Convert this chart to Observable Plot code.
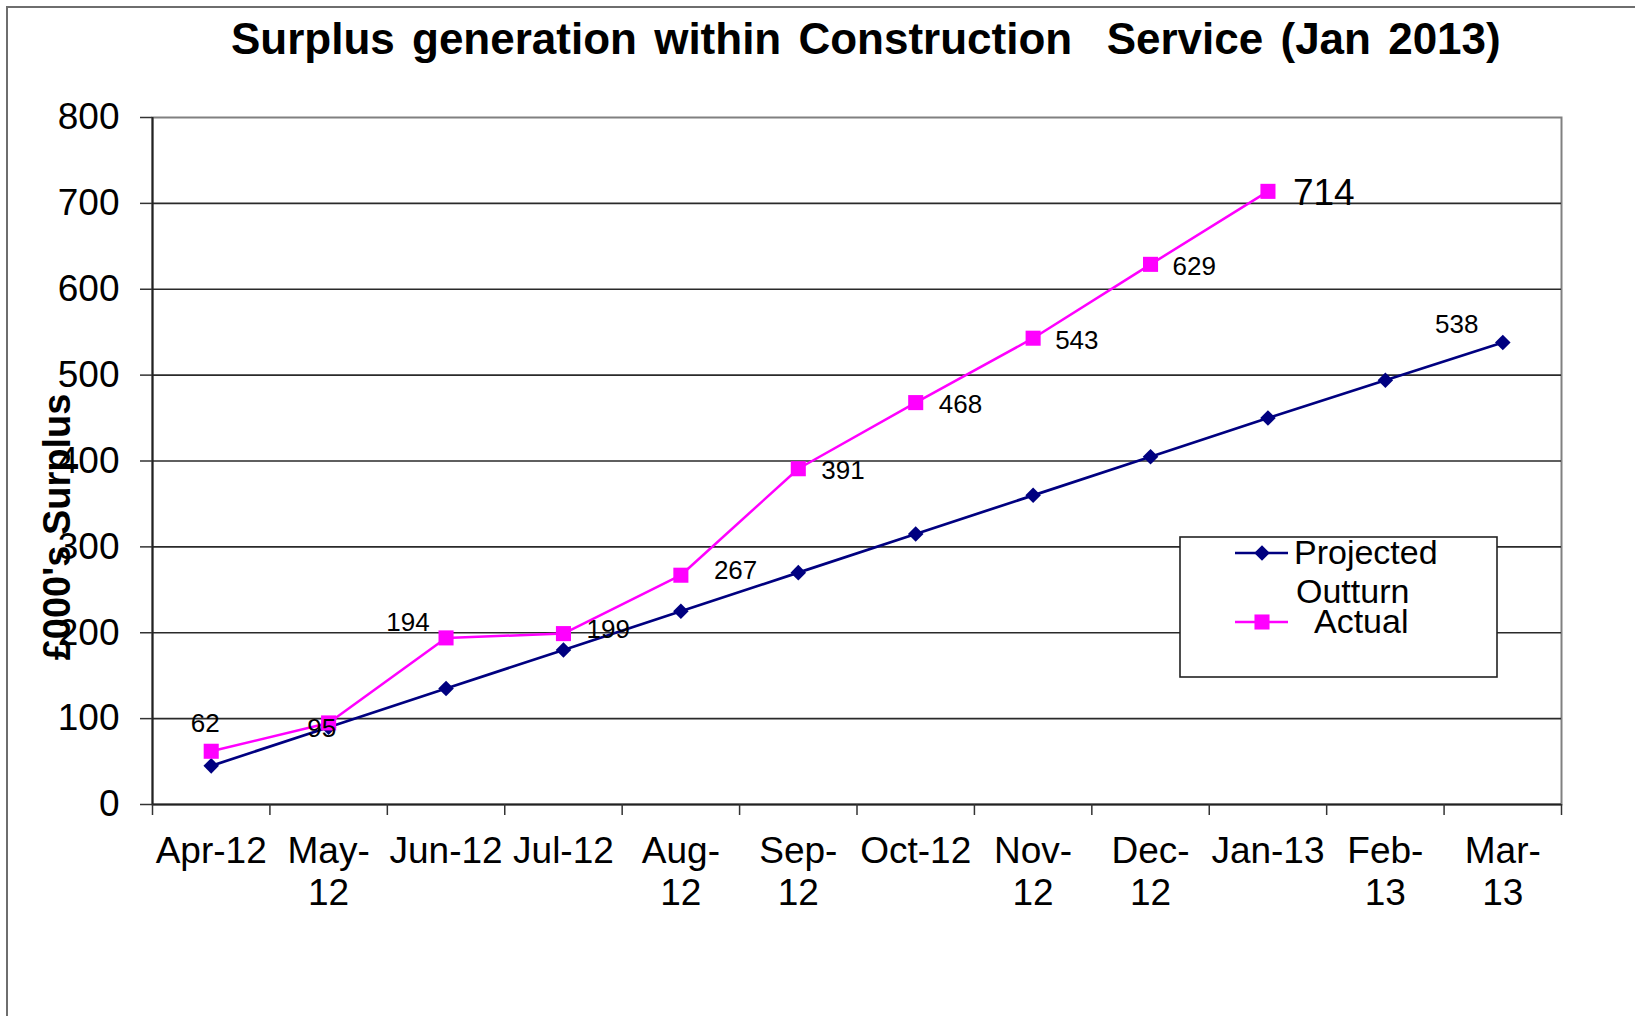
<!DOCTYPE html>
<html>
<head>
<meta charset="utf-8">
<script src="https://cdn.jsdelivr.net/npm/d3@7"></script>
<script src="https://cdn.jsdelivr.net/npm/@observablehq/plot@0.6"></script>
<style>
  html, body { margin: 0; padding: 0; background: #fff; }
  body { width: 1635px; height: 1016px; overflow: hidden; position: relative;
         font-family: "Liberation Sans", Arial, sans-serif; }
  #border { position: absolute; left: 6px; top: 6px; width: 1700px; height: 1100px;
            border-left: 2px solid #6e6e6e; border-top: 2px solid #6e6e6e; }
  #title { position: absolute; left: 231px; top: 17px; font-size: 44px; line-height: 44px;
           font-weight: bold; white-space: pre; word-spacing: 5px; color: #000; }
  #chart { position: absolute; left: 0; top: 80px; }
  #legend { position: absolute; left: 0; top: 0; }
</style>
</head>
<body>
<div id="border"></div>
<div id="title"></div>
<div id="chart"></div>
<svg id="legend" width="1635" height="1016" style="pointer-events:none"></svg>
<script>
// ---- data ----
const months = ["Apr-12","May-12","Jun-12","Jul-12","Aug-12","Sep-12","Oct-12","Nov-12","Dec-12","Jan-13","Feb-13","Mar-13"];
const monthLabels = ["Apr-12","May-\n12","Jun-12","Jul-12","Aug-\n12","Sep-\n12","Oct-12","Nov-\n12","Dec-\n12","Jan-13","Feb-\n13","Mar-\n13"];
const projected = [45, 90, 135, 180, 225, 270, 315, 360, 405, 450, 494, 538];
const actual = [62, 95, 194, 199, 267, 391, 468, 543, 629, 714];
const yTicks = [0, 100, 200, 300, 400, 500, 600, 700, 800];
const seriesNames = ["Projected Outturn", "Actual"];
const titleText = "Surplus generation within Construction  Service (Jan 2013)";
const yLabel = "£000's Surplus";

document.getElementById("title").textContent = titleText;

// ---- styles ----
const NAVY = "#000080", MAGENTA = "#FF00FF";
const FONT = "Liberation Sans, Arial, sans-serif";
const R_DIAMOND = 7, R_SQUARE = 8.5;

const projRows = projected.map((v, i) => ({i, month: months[i], v}));
const actRows = actual.map((v, i) => ({i, month: months[i], v}));
const bounds = d3.range(months.length + 1).map(k => k - 0.5);

const placements = [
  {rows: actRows, i: 0, anchor: "middle", dx: -6, dy: -28, size: 26},
  {rows: actRows, i: 1, anchor: "middle", dx: -7, dy: 6, size: 26},
  {rows: actRows, i: 2, anchor: "middle", dx: -38, dy: -15, size: 26},
  {rows: actRows, i: 3, anchor: "start", dx: 23, dy: -4, size: 26},
  {rows: actRows, i: 4, anchor: "start", dx: 33, dy: -5, size: 26},
  {rows: actRows, i: 5, anchor: "start", dx: 23, dy: 2, size: 26},
  {rows: actRows, i: 6, anchor: "start", dx: 23, dy: 2, size: 26},
  {rows: actRows, i: 7, anchor: "start", dx: 22, dy: 2, size: 26},
  {rows: actRows, i: 8, anchor: "start", dx: 22, dy: 2, size: 26},
  {rows: actRows, i: 9, anchor: "start", dx: 25, dy: 2, size: 37},
  {rows: projRows, i: 11, anchor: "middle", dx: -46, dy: -18, size: 26}
];

const chart = Plot.plot({
  width: 1635,
  height: 936,
  marginTop: 37,
  marginBottom: 212,
  marginLeft: 152,
  marginRight: 74,
  style: {fontFamily: FONT, color: "#000", background: "transparent"},
  x: {type: "linear", domain: [-0.5, months.length - 0.5], axis: null},
  y: {domain: [0, 800], axis: null},
  marks: [
    Plot.frame({stroke: "#808080", strokeWidth: 2}),
    Plot.gridY(yTicks.filter(v => v > 0 && v < 800), {stroke: "#2a2a2a", strokeOpacity: 1, strokeWidth: 1.7}),
    Plot.ruleX([bounds[0]], {stroke: "#222", strokeWidth: 2}),
    Plot.ruleY([0], {stroke: "#222", strokeWidth: 2}),
    Plot.axisY(yTicks, {tickSize: 12, tickPadding: 21, fontSize: 37, label: null, stroke: "#333", strokeWidth: 1.5}),
    Plot.axisX(bounds, {tickSize: 11, tickFormat: () => "", label: null, stroke: "#333", strokeWidth: 1.5}),
    Plot.text(monthLabels.map((t, i) => ({i, t})), {
      x: "i", text: "t", frameAnchor: "bottom", dy: 28, lineAnchor: "top",
      textAnchor: "middle", lineHeight: 1.15, fontSize: 37, fill: "#000"
    }),
    Plot.text([yLabel], {frameAnchor: "left", textAnchor: "middle", rotate: -90, dx: -95, dy: 66,
      fontSize: 38, fontWeight: "bold", fill: "#000"}),
    Plot.line(projRows, {x: "i", y: "v", stroke: NAVY, strokeWidth: 2.7}),
    Plot.dot(projRows, {x: "i", y: "v", symbol: "diamond2", r: R_DIAMOND, fill: NAVY, stroke: "none"}),
    Plot.line(actRows, {x: "i", y: "v", stroke: MAGENTA, strokeWidth: 2.5}),
    Plot.dot(actRows, {x: "i", y: "v", symbol: "square", r: R_SQUARE, fill: MAGENTA, stroke: "none"}),
    ...placements.map(p => Plot.text(p.rows.filter(d => d.i === p.i), {
      x: "i", y: "v", text: d => String(d.v), textAnchor: p.anchor,
      dx: p.dx, dy: p.dy, fontSize: p.size, fill: "#000"
    }))
  ]
});
document.getElementById("chart").appendChild(chart);

// ---- legend ----
const lg = d3.select("#legend");
lg.append("rect").attr("x", 1180).attr("y", 537).attr("width", 317).attr("height", 140)
  .attr("fill", "#fff").attr("stroke", "#222").attr("stroke-width", 1.6);
const diamond = d3.symbol(d3.symbolDiamond2, Math.PI * R_DIAMOND * R_DIAMOND)();
const square = d3.symbol(d3.symbolSquare, Math.PI * R_SQUARE * R_SQUARE)();
const entries = [
  {name: seriesNames[0], color: NAVY, sym: diamond, y: 553, lines: [{t: "Projected", x: 1294, b: 564}, {t: "Outturn", x: 1296, b: 603}]},
  {name: seriesNames[1], color: MAGENTA, sym: square, y: 622, lines: [{t: "Actual", x: 1314, b: 633}]}
];
for (const e of entries) {
  lg.append("line").attr("x1", 1235).attr("x2", 1288).attr("y1", e.y).attr("y2", e.y)
    .attr("stroke", e.color).attr("stroke-width", 2.7);
  lg.append("path").attr("d", e.sym).attr("transform", `translate(1262,${e.y})`).attr("fill", e.color);
  for (const l of e.lines) {
    lg.append("text").attr("x", l.x).attr("y", l.b).attr("font-family", FONT)
      .attr("font-size", 34).attr("fill", "#000").text(l.t);
  }
}
</script>
</body>
</html>
